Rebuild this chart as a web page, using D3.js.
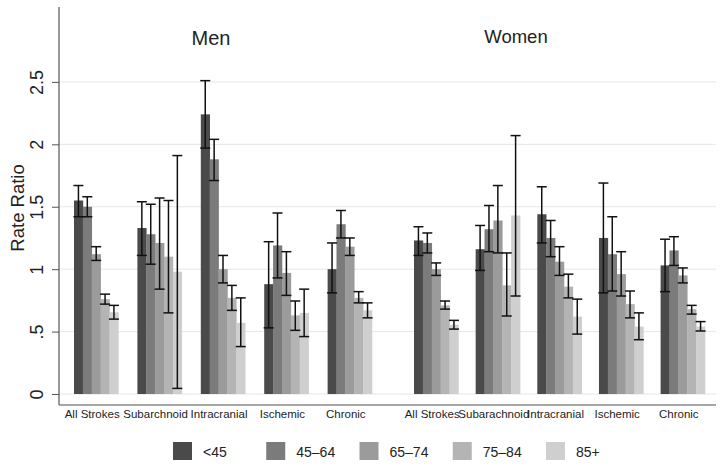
<!DOCTYPE html>
<html>
<head>
<meta charset="utf-8">
<script src="https://cdn.jsdelivr.net/npm/d3@7"></script>
<style>
  html, body { margin: 0; padding: 0; background: #fff; }
  svg { display: block; font-family: "Liberation Sans", Arial, sans-serif; }
</style>
</head>
<body>
<svg id="chart" width="724" height="468"></svg>
<script>
// ---------------- data ----------------
const ageGroups = ["<45", "45\u201364", "65\u201374", "75\u201384", "85+"];
const menCategories = ["All Strokes", "Subarchnoid", "Intracranial", "Ischemic", "Chronic"];
const womenCategories = ["All Strokes", "Subarachnoid", "Intracranial", "Ischemic", "Chronic"];

const menRR = [
  [1.55, 1.50, 1.12, 0.76, 0.655],
  [1.33, 1.28, 1.21, 1.10, 0.98],
  [2.24, 1.88, 1.00, 0.77, 0.57],
  [0.88, 1.19, 0.97, 0.63, 0.65],
  [1.00, 1.36, 1.18, 0.77, 0.67]
];
const menLo = [
  [1.42, 1.42, 1.07, 0.72, 0.60],
  [1.11, 1.04, 0.84, 0.65, 0.045],
  [1.97, 1.71, 0.89, 0.67, 0.38],
  [0.53, 0.93, 0.79, 0.51, 0.46],
  [0.81, 1.25, 1.11, 0.73, 0.61]
];
const menHi = [
  [1.67, 1.58, 1.18, 0.80, 0.71],
  [1.54, 1.52, 1.57, 1.55, 1.91],
  [2.51, 2.04, 1.11, 0.87, 0.77],
  [1.22, 1.45, 1.14, 0.745, 0.84],
  [1.21, 1.47, 1.25, 0.82, 0.73]
];
const womenRR = [
  [1.23, 1.21, 1.00, 0.71, 0.555],
  [1.16, 1.32, 1.39, 0.87, 1.43],
  [1.44, 1.25, 1.06, 0.86, 0.62],
  [1.25, 1.12, 0.96, 0.72, 0.54],
  [1.03, 1.15, 0.95, 0.68, 0.54]
];
const womenLo = [
  [1.11, 1.13, 0.95, 0.68, 0.52],
  [0.99, 1.14, 1.13, 0.625, 0.785],
  [1.21, 1.10, 0.95, 0.77, 0.48],
  [0.81, 0.825, 0.785, 0.61, 0.435],
  [0.82, 1.03, 0.89, 0.64, 0.505]
];
const womenHi = [
  [1.34, 1.29, 1.05, 0.745, 0.59],
  [1.35, 1.51, 1.67, 1.13, 2.07],
  [1.66, 1.39, 1.18, 0.96, 0.76],
  [1.69, 1.42, 1.14, 0.825, 0.65],
  [1.24, 1.26, 1.01, 0.71, 0.58]
];
const yTicks = [0, 0.5, 1, 1.5, 2, 2.5];
const yTickLabels = ["0", ".5", "1", "1.5", "2", "2.5"];
const panelTitles = ["Men", "Women"];
const yTitle = "Rate Ratio";

// ---------------- styles ----------------
const colors = ["#4a4a4a", "#7b7b7b", "#9b9b9b", "#b4b4b4", "#cfcfcf"];

const svg = d3.select("#chart");
const plotLeft = 59, plotRight = 716, plotTop = 7, plotBottom = 405;

const y = d3.scaleLinear().domain([-0.088, 3.1]).range([plotBottom, plotTop]);

// gridlines
svg.append("g").selectAll("line").data(yTicks).join("line")
  .attr("x1", plotLeft).attr("x2", plotRight)
  .attr("y1", d => y(d)).attr("y2", d => y(d))
  .attr("stroke", "#e6e6e6").attr("stroke-width", 1);

// y axis
const yAxis = d3.axisLeft(y).tickValues(yTicks).tickSize(7)
  .tickFormat((d, i) => yTickLabels[i]);
const yg = svg.append("g").attr("transform", `translate(${plotLeft},0)`).call(yAxis);
yg.select(".domain").attr("d", `M0,${plotTop}V${plotBottom}`).attr("stroke", "#555").attr("stroke-width", 1.2);
yg.selectAll(".tick line").attr("stroke", "#555");
yg.selectAll(".tick text")
  .attr("x", null).attr("dy", null)
  .attr("transform", "translate(-16,0) rotate(-90)")
  .attr("text-anchor", "middle")
  .attr("font-size", 18).attr("fill", "#222")
  .attr("font-family", "Liberation Sans, Arial, sans-serif");

// x axis line
svg.append("line")
  .attr("x1", plotLeft).attr("x2", plotRight)
  .attr("y1", plotBottom).attr("y2", plotBottom)
  .attr("stroke", "#888").attr("stroke-width", 1.5);

// y title
svg.append("text")
  .attr("transform", `translate(24,${(y(0) + y(2.5)) / 2 - 30}) rotate(-90)`)
  .attr("text-anchor", "middle")
  .attr("font-size", 18.5).attr("fill", "#222")
  .text(yTitle);

// panels
const panels = [
  { cats: menCategories, rr: menRR, lo: menLo, hi: menHi, range: [74, 372], pad: 0.30, title: panelTitles[0], tx: 211, ty: 45, tsize: 20 },
  { cats: womenCategories, rr: womenRR, lo: womenLo, hi: womenHi, range: [414, 705], pad: 0.28, title: panelTitles[1], tx: 516, ty: 43, tsize: 18.5 }
];

panels.forEach(p => {
  const x0 = d3.scaleBand().domain(p.cats).range(p.range).paddingInner(p.pad).paddingOuter(0);
  const x1 = d3.scaleBand().domain(ageGroups).range([0, x0.bandwidth()]).padding(0);

  const rows = [];
  p.cats.forEach((c, ci) => ageGroups.forEach((a, ai) => rows.push({
    cat: c, age: a, ai, v: p.rr[ci][ai], lo: p.lo[ci][ai], hi: p.hi[ci][ai]
  })));

  const g = svg.append("g");
  g.selectAll("rect").data(rows).join("rect")
    .attr("x", d => x0(d.cat) + x1(d.age))
    .attr("width", x1.bandwidth() + 0.3)
    .attr("y", d => y(d.v))
    .attr("height", d => y(0) - y(d.v))
    .attr("fill", d => colors[d.ai]);

  const eb = g.append("g").attr("stroke", "#111").attr("stroke-width", 1.5);
  const cx = d => x0(d.cat) + x1(d.age) + x1.bandwidth() / 2;
  const capW = 5;
  eb.selectAll("line.v").data(rows).join("line").attr("class", "v")
    .attr("x1", cx).attr("x2", cx)
    .attr("y1", d => y(d.lo)).attr("y2", d => y(d.hi));
  eb.selectAll("line.t").data(rows).join("line").attr("class", "t")
    .attr("x1", d => cx(d) - capW).attr("x2", d => cx(d) + capW)
    .attr("y1", d => y(d.hi)).attr("y2", d => y(d.hi));
  eb.selectAll("line.b").data(rows).join("line").attr("class", "b")
    .attr("x1", d => cx(d) - capW).attr("x2", d => cx(d) + capW)
    .attr("y1", d => y(d.lo)).attr("y2", d => y(d.lo));

  // category labels
  svg.append("g").selectAll("text").data(p.cats).join("text")
    .attr("x", d => x0(d) + x0.bandwidth() / 2 - 4)
    .attr("y", 418)
    .attr("text-anchor", "middle")
    .attr("font-size", 11.5).attr("fill", "#222")
    .text(d => d);

  // panel title
  svg.append("text")
    .attr("x", p.tx).attr("y", p.ty)
    .attr("text-anchor", "middle")
    .attr("font-size", p.tsize).attr("fill", "#222")
    .text(p.title);
});

// legend
const lx = d3.scalePoint().domain(ageGroups).range([173, 546]);
const lg = svg.append("g").selectAll("g").data(ageGroups).join("g")
  .attr("transform", d => `translate(${lx(d)},442)`);
lg.append("rect").attr("width", 19).attr("height", 18)
  .attr("fill", (d, i) => colors[i]);
lg.append("text").attr("x", 30).attr("y", 15)
  .attr("font-size", 14).attr("fill", "#222")
  .text(d => d);
</script>
</body>
</html>
